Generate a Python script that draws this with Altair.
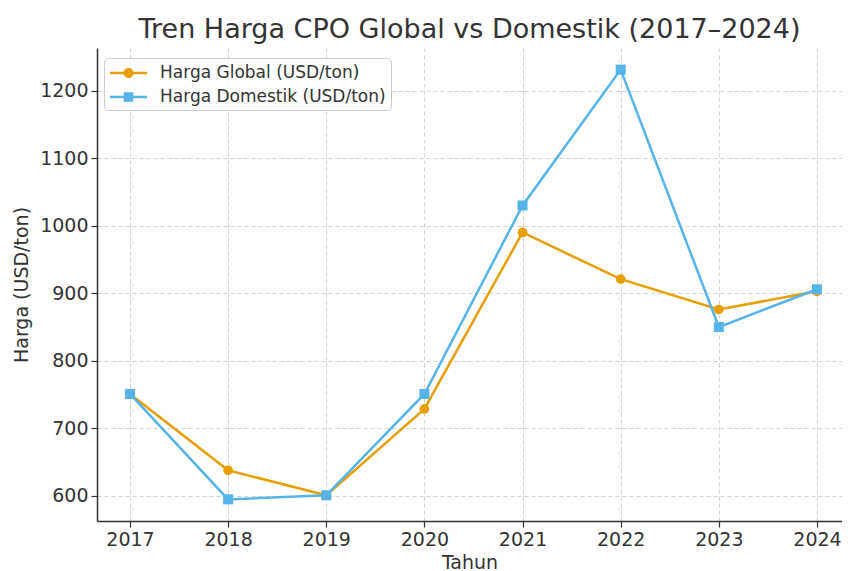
import altair as alt
import pandas as pd

years = [2017, 2018, 2019, 2020, 2021, 2022, 2023, 2024]
global_price = [751, 638, 601, 729, 990, 921, 876, 903]
domestic_price = [751, 595, 601, 751, 1030, 1231, 850, 906]
series_names = ["Harga Global (USD/ton)", "Harga Domestik (USD/ton)"]
colors = ["#E69F00", "#56B4E9"]
marker_shapes = ["circle", "square"]
y_ticks = [600, 700, 800, 900, 1000, 1100, 1200]

rows = []
for yr, g, d in zip(years, global_price, domestic_price):
    rows.append({"Tahun": yr, "Harga": g, "Seri": series_names[0]})
    rows.append({"Tahun": yr, "Harga": d, "Seri": series_names[1]})
df = pd.DataFrame(rows)

FONT = "DejaVu Sans"

x = alt.X("Tahun:Q",
          scale=alt.Scale(domain=[2016.664, 2024.255], nice=False, zero=False),
          axis=alt.Axis(values=years, format="d", title="Tahun"))
y = alt.Y("Harga:Q",
          scale=alt.Scale(domain=[563, 1263], nice=False, zero=False),
          axis=alt.Axis(values=y_ticks, format="d", title="Harga (USD/ton)"))

layers = []
for name, col, shp in zip(series_names, colors, marker_shapes):
    base = alt.Chart(df).transform_filter(alt.datum.Seri == name)
    layers.append(base.mark_line(strokeWidth=2.5, color=col).encode(x=x, y=y))
for name, col, shp in zip(series_names, colors, marker_shapes):
    base = alt.Chart(df).transform_filter(alt.datum.Seri == name)
    layers.append(base.mark_point(shape=shp, filled=True, opacity=1, color=col,
                                  size=95 if shp == "circle" else 100).encode(x=x, y=y))

circle_path = ("M-1.85,-0.125H1.85V0.125H-1.85Z "
               "M-0.5,0A0.5,0.5 0 1,1 0.5,0A0.5,0.5 0 1,1 -0.5,0Z")
square_path = ("M-1.85,-0.125H1.85V0.125H-1.85Z "
               "M-0.48,-0.48H0.48V0.48H-0.48Z")

legend_cfg = dict(title=None, orient="none", legendX=7, legendY=10,
                  symbolSize=400, symbolStrokeWidth=0, symbolOffset=9.5,
                  labelOffset=21.5, labelFontSize=17, labelLimit=400,
                  labelColor="#333333", labelFont=FONT,
                  rowPadding=6, padding=5,
                  strokeColor="#cccccc", cornerRadius=4,
                  fillColor="rgba(255,255,255,0.85)")

legend_layer = alt.Chart(df).transform_filter("false").mark_point(filled=True, opacity=1).encode(
    x=x, y=y,
    color=alt.Color("Seri:N", scale=alt.Scale(domain=series_names, range=colors),
                    legend=alt.Legend(**legend_cfg)),
    shape=alt.Shape("Seri:N", scale=alt.Scale(domain=series_names,
                                              range=[circle_path, square_path]),
                    legend=alt.Legend(**legend_cfg)),
)
layers.append(legend_layer)

chart = alt.layer(*layers).properties(
    width=745, height=473,
    title=alt.Title("Tren Harga CPO Global vs Domestik (2017–2024)",
                    fontSize=27, font=FONT, fontWeight="normal", color="#333333",
                    anchor="middle", offset=4),
    autosize=alt.AutoSizeParams(type="none"),
    padding={"left": 89, "top": 40, "right": 0, "bottom": 52},
).configure_view(stroke=None).configure_axis(
    labelFont=FONT, titleFont=FONT, labelFontSize=19, titleFontSize=19,
    labelColor="#333333", titleColor="#333333", titleFontWeight="normal",
    domainColor="#333333", domainWidth=1.5, tickColor="#333333", tickSize=6,
    tickWidth=1.2, gridColor="#cccccc", gridDash=[4, 3], gridWidth=0.9,
    labelPadding=3,
).configure_axisY(titlePadding=8).configure_axisX(titlePadding=4)

chart.save("out.html", embed_options={"renderer": "svg", "actions": False})
